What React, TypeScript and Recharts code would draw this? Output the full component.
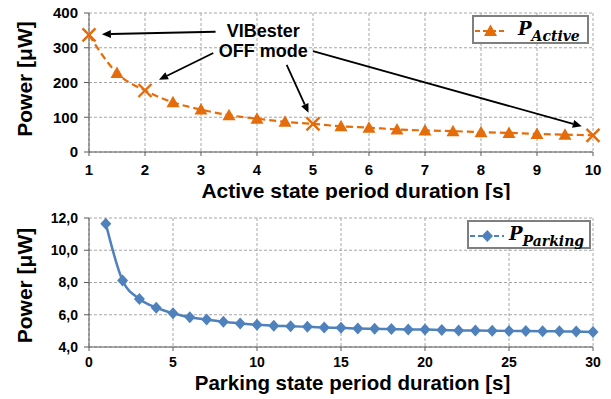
import {
  LineChart,
  Line,
  XAxis,
  YAxis,
  CartesianGrid,
  Legend,
  ReferenceLine,
  ReferenceDot,
} from "recharts";

const FONT = "'Liberation Sans', Arial, sans-serif";
const MATH_FONT = "'DejaVu Serif', serif";
const ORANGE = "#E46C0A";
const BLUE = "#4F81BD";
const GRID = "#a6a6a6";
const AXIS = "#595959";

// top chart: active state
const activeTimes = [1, 1.5, 2, 2.5, 3, 3.5, 4, 4.5, 5, 5.5, 6, 6.5, 7, 7.5, 8, 8.5, 9, 9.5, 10];
const activePower = [337, 227, 177, 143, 122, 106, 96, 87, 81, 74, 70, 65, 62, 60, 57, 55, 52, 50, 48];
const offModeTimes = [1, 2, 5, 10];
const activeTicks = [1, 2, 3, 4, 5, 6, 7, 8, 9, 10];
const activeMinorTicks = [1.5, 2.5, 3.5, 4.5, 5.5, 6.5, 7.5, 8.5, 9.5];
const activePowerTicks = [0, 100, 200, 300, 400];
const activePowerMinor = [50, 150, 250, 350];

// bottom chart: parking state
const parkingTimes = [
  1, 2, 3, 4, 5, 6, 7, 8, 9, 10, 11, 12, 13, 14, 15, 16, 17, 18, 19, 20, 21, 22, 23, 24, 25, 26, 27,
  28, 29, 30,
];
const parkingPower = [
  11.65, 8.12, 6.98, 6.44, 6.09, 5.84, 5.71, 5.56, 5.46, 5.38, 5.32, 5.29, 5.25, 5.21, 5.19, 5.15,
  5.13, 5.11, 5.09, 5.08, 5.05, 5.03, 5.02, 5.01, 5.0, 4.99, 4.98, 4.97, 4.96, 4.93,
];
const parkingTicks = [0, 5, 10, 15, 20, 25, 30];
const parkingPowerTicks = [4, 6, 8, 10, 12];
const parkingPowerMinor = [5, 7, 9, 11];

// "VIBester OFF mode" callout, in data units of the top chart
const calloutLines = [
  { text: "VIBester", t: 4.11, p: 348 },
  { text: "OFF mode", t: 4.11, p: 292 },
];
const calloutArrows = [
  { from: [3.26, 346], to: [1.23, 339] },
  { from: [3.22, 285], to: [2.25, 208] },
  { from: [4.53, 251], to: [4.92, 113] },
  { from: [5.0, 290], to: [9.8, 74] },
];

const activeRows = activeTimes.map((t, i) => ({
  t,
  p: activePower[i],
  off: offModeTimes.includes(t),
}));
const parkingRows = parkingTimes.map((t, i) => ({ t, p: parkingPower[i] }));

const tickStyle = (size: number) => ({
  fill: "#000",
  fontSize: size,
  fontWeight: 700,
  fontFamily: FONT,
});

function ActiveDot(props: any) {
  const { cx, cy, payload, index } = props;
  if (cx == null || cy == null) return null;
  if (payload.off) {
    const s = 6.5;
    return (
      <g key={`a${index}`}>
        <line x1={cx - s} y1={cy - s} x2={cx + s} y2={cy + s} stroke={ORANGE} strokeWidth={2.4} />
        <line x1={cx - s} y1={cy + s} x2={cx + s} y2={cy - s} stroke={ORANGE} strokeWidth={2.4} />
      </g>
    );
  }
  return (
    <polygon
      key={`a${index}`}
      points={`${cx},${cy - 6.5} ${cx + 6.5},${cy + 5} ${cx - 6.5},${cy + 5}`}
      fill={ORANGE}
    />
  );
}

function ParkingDot(props: any) {
  const { cx, cy, index } = props;
  if (cx == null || cy == null) return null;
  return (
    <polygon
      key={`p${index}`}
      points={`${cx},${cy - 6} ${cx + 5.5},${cy} ${cx},${cy + 6} ${cx - 5.5},${cy}`}
      fill={BLUE}
    />
  );
}

function ArrowShape(props: any) {
  const { x1, y1, x2, y2 } = props;
  const a = Math.atan2(y2 - y1, x2 - x1);
  const L = 9;
  const W = 4;
  const bx = x2 - L * Math.cos(a);
  const by = y2 - L * Math.sin(a);
  const px = -Math.sin(a) * W;
  const py = Math.cos(a) * W;
  return (
    <g>
      <line x1={x1} y1={y1} x2={bx} y2={by} stroke="#000" strokeWidth={1.8} />
      <polygon points={`${x2},${y2} ${bx + px},${by + py} ${bx - px},${by - py}`} fill="#000" />
    </g>
  );
}

function CalloutText(text: string) {
  return (props: any) => (
    <text
      x={props.cx}
      y={props.cy}
      textAnchor="middle"
      dominantBaseline="central"
      fontFamily={FONT}
      fontWeight={700}
      fontSize={18}
      fill="#000"
    >
      {text}
    </text>
  );
}

const yTitle = (dy: number) => (props: any) => {
  const vb = props.viewBox || { x: 0, y: 0, height: 0 };
  const x = vb.x + 24;
  const y = vb.y + vb.height / 2 + dy;
  return (
    <text
      x={x}
      y={y}
      transform={`rotate(-90 ${x} ${y})`}
      textAnchor="middle"
      dominantBaseline="central"
      fontFamily={FONT}
      fontWeight={700}
      fontSize={21}
      fill="#000"
    >
      Power [μW]
    </text>
  );
};

const xTitle = (text: string, cx: number, dy: number, size: number) => (props: any) => {
  const vb = props.viewBox || { y: 0 };
  return (
    <text
      x={cx}
      y={vb.y + dy}
      textAnchor="middle"
      dominantBaseline="central"
      fontFamily={FONT}
      fontWeight={700}
      fontSize={size}
      fill="#000"
    >
      {text}
    </text>
  );
};

function ActiveLegend() {
  return (
    <svg width={117} height={29}>
      <rect x={1} y={1} width={115} height={27} fill="#fff" stroke="#7f7f7f" strokeWidth={2} />
      <line x1={3} y1={16} x2={34} y2={16} stroke={ORANGE} strokeWidth={2.2} strokeDasharray="5 3" />
      <polygon points="18.5,9.5 25,21 12,21" fill={ORANGE} />
      <text x={46} y={20} fontFamily={MATH_FONT} fontStyle="italic" fontWeight={700} fill="#000">
        <tspan fontSize={18}>P</tspan>
        <tspan fontSize={14} dy={6}>Active</tspan>
      </text>
    </svg>
  );
}

function ParkingLegend() {
  return (
    <svg width={124} height={29}>
      <rect x={1} y={1} width={122} height={27} fill="#fff" stroke="#7f7f7f" strokeWidth={2} />
      <line x1={3} y1={16} x2={37} y2={16} stroke={BLUE} strokeWidth={2.2} strokeDasharray="5 3" />
      <polygon points="20.3,10 26,16 20.3,22 14.6,16" fill={BLUE} />
      <text x={42} y={20} fontFamily={MATH_FONT} fontStyle="italic" fontWeight={700} fill="#000">
        <tspan fontSize={18}>P</tspan>
        <tspan fontSize={14} dy={6}>Parking</tspan>
      </text>
    </svg>
  );
}

function ActiveChart() {
  return (
    <LineChart width={611} height={200} data={activeRows} margin={{ top: 13, right: 18, bottom: 0, left: 0 }}>
      <CartesianGrid strokeDasharray="3 2" stroke={GRID} />
      <XAxis
        dataKey="t"
        type="number"
        domain={[1, 10]}
        ticks={activeTicks}
        height={48}
        tickSize={4}
        tickMargin={8}
        stroke={AXIS}
        tick={tickStyle(15)}
        label={xTitle("Active state period duration [s]", 356, 38, 21)}
      />
      <XAxis
        xAxisId="minor"
        type="number"
        domain={[1, 10]}
        ticks={activeMinorTicks}
        mirror
        height={0}
        axisLine={false}
        tickSize={3}
        tickFormatter={() => ""}
        stroke={AXIS}
      />
      <YAxis
        type="number"
        domain={[0, 400]}
        ticks={activePowerTicks}
        width={89}
        tickSize={5}
        tickMargin={6}
        stroke={AXIS}
        tick={tickStyle(15)}
        label={yTitle(-3.5)}
      />
      <YAxis
        yAxisId="minor"
        type="number"
        domain={[0, 400]}
        ticks={activePowerMinor}
        mirror
        width={0}
        axisLine={false}
        tickSize={3}
        tickFormatter={() => ""}
        stroke={AXIS}
      />
      <Legend
        layout="vertical"
        align="center"
        verticalAlign="middle"
        wrapperStyle={{ left: 472, top: 15, width: 117, height: 29 }}
        content={() => <ActiveLegend />}
      />
      <Line
        type="monotone"
        dataKey="p"
        stroke={ORANGE}
        strokeWidth={2.2}
        strokeDasharray="7 4"
        dot={ActiveDot}
        activeDot={false}
        isAnimationActive={false}
      />
      {calloutArrows.map((a, i) => (
        <ReferenceLine
          key={`arr${i}`}
          segment={[
            { x: a.from[0], y: a.from[1] },
            { x: a.to[0], y: a.to[1] },
          ]}
          shape={ArrowShape}
        />
      ))}
      {calloutLines.map((c) => (
        <ReferenceDot key={c.text} x={c.t} y={c.p} r={0} shape={CalloutText(c.text)} />
      ))}
    </LineChart>
  );
}

function ParkingChart() {
  return (
    <LineChart width={611} height={199} data={parkingRows} margin={{ top: 18, right: 18, bottom: 0, left: 0 }}>
      <CartesianGrid strokeDasharray="3 2" stroke={GRID} />
      <XAxis
        dataKey="t"
        type="number"
        domain={[0, 30]}
        ticks={parkingTicks}
        height={52}
        tickSize={4}
        tickMargin={6}
        stroke={AXIS}
        tick={tickStyle(14)}
        label={xTitle("Parking state period duration [s]", 352.5, 35, 20.5)}
      />
      <XAxis
        xAxisId="minor"
        type="number"
        domain={[0, 30]}
        ticks={parkingTimes}
        mirror
        height={0}
        axisLine={false}
        tickSize={3}
        tickFormatter={() => ""}
        stroke={AXIS}
      />
      <YAxis
        type="number"
        domain={[4, 12]}
        ticks={parkingPowerTicks}
        width={89}
        tickSize={5}
        tickMargin={6}
        stroke={AXIS}
        tick={tickStyle(14)}
        tickFormatter={(v: number) => v.toFixed(1).replace(".", ",")}
        label={yTitle(3)}
      />
      <YAxis
        yAxisId="minor"
        type="number"
        domain={[4, 12]}
        ticks={parkingPowerMinor}
        mirror
        width={0}
        axisLine={false}
        tickSize={3}
        tickFormatter={() => ""}
        stroke={AXIS}
      />
      <Legend
        layout="vertical"
        align="center"
        verticalAlign="middle"
        wrapperStyle={{ left: 467, top: 20, width: 124, height: 29 }}
        content={() => <ParkingLegend />}
      />
      <Line
        type="monotone"
        dataKey="p"
        stroke={BLUE}
        strokeWidth={2.5}
        dot={ParkingDot}
        activeDot={false}
        isAnimationActive={false}
      />
    </LineChart>
  );
}

export default function App() {
  return (
    <div
      style={{
        position: "absolute",
        left: 0,
        top: 0,
        width: 611,
        height: 399,
        background: "#fff",
        fontFamily: FONT,
      }}
    >
      <div style={{ position: "absolute", left: 0, top: 0 }}>
        <ActiveChart />
      </div>
      <div style={{ position: "absolute", left: 0, top: 200 }}>
        <ParkingChart />
      </div>
    </div>
  );
}
